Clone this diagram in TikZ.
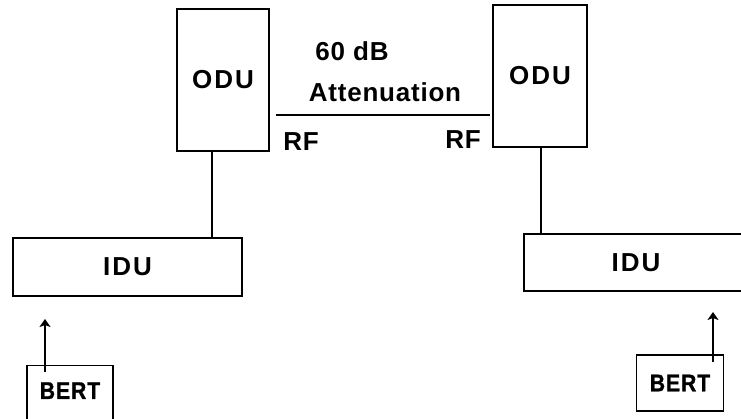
\documentclass[tikz,border=0pt]{standalone}
\usepackage{fontspec}
\setmainfont{Liberation Sans}
\newfontfamily\boxfont[LetterSpace=8]{Liberation Sans}
\newfontfamily\lblfont[LetterSpace=3]{Liberation Sans}
\newfontfamily\bertfont[LetterSpace=4,FakeStretch=0.88,FakeBold=1.2]{Liberation Sans}
\usetikzlibrary{arrows.meta,calc}
\begin{document}
\begin{tikzpicture}[x=1pt,y=-1pt,
  box/.style={draw,line width=1.3pt,inner sep=0pt,font=\boxfont\bfseries\fontsize{26}{28}\selectfont},
  lbl/.style={inner sep=0pt,anchor=base,font=\lblfont\bfseries\fontsize{26}{28}\selectfont},
  bertbox/.style={box,font=\bertfont\bfseries\fontsize{24}{26}\selectfont},
  wire/.style={line width=1.3pt},
  arr/.style={line width=1.8pt,-{Stealth[length=8pt,width=11pt,inset=2pt]}}]
\useasboundingbox (0,0) rectangle (741,418);
% units
\node[box,minimum width=92pt,minimum height=142pt] (odul) at (223,80) {ODU};
\node[box,minimum width=94pt,minimum height=142pt] (odur) at (540,76) {ODU};
\node[box,minimum width=229pt,minimum height=58pt] (idul) at (127.5,267) {IDU};
\node[box,minimum width=224pt,minimum height=57pt] (idur) at (636,262.5) {IDU};
\node[bertbox,minimum width=86pt,minimum height=60pt,anchor=north,text depth=10pt] (bertl) at (70,365) {BERT};
\node[bertbox,minimum width=87pt,minimum height=56pt] (bertr) at (680,383) {BERT};
% labels
\node[lbl] (db) at (352,60) {60 dB};
\node[lbl] (att) at (385,101) {Attenuation};
\node[lbl] (rfl) at (301,150) {RF};
\node[lbl] (rfr) at (463,148) {RF};
% RF link
\coordinate (la) at ([xshift=6pt]odul.east |- 0,115);
\coordinate (lb) at ([xshift=-2pt]odur.west |- 0,115);
\draw[wire] (la) -- (lb);
% ODU to IDU
\coordinate (wl) at ([xshift=-11pt]odul.south);
\coordinate (wr) at ([xshift=1pt]odur.south);
\draw[wire] (wl) -- (wl |- idul.north);
\draw[wire] (wr) -- (wr |- idur.north);
% BERT arrows
\coordinate (al) at (45,319);
\coordinate (ar) at (713,312);
\draw[arr] ([xshift=-25pt,yshift=-7pt]bertl.north) -- (al);
\draw[arr] ([xshift=33pt,yshift=-8pt]bertr.north) -- (ar);
\end{tikzpicture}
\end{document}
